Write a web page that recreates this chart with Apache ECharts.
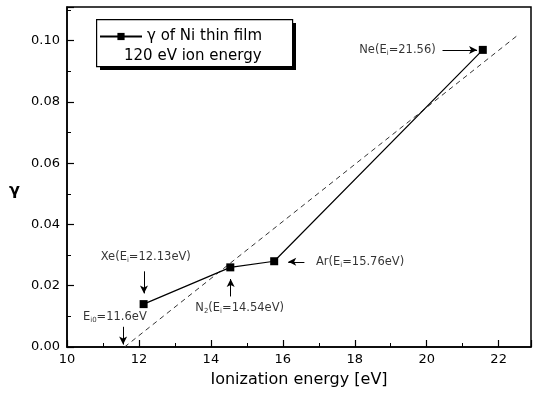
<!DOCTYPE html>
<html>
<head>
<meta charset="utf-8">
<script src="https://cdn.jsdelivr.net/npm/echarts@6/dist/echarts.min.js"></script>
<style>
  html, body { margin: 0; padding: 0; background: #fff; }
  #main { width: 538px; height: 393px; }
</style>
</head>
<body>
<div id="main"></div>
<script>
// measured gamma values
var gases = ['Xe', 'N2', 'Ar', 'Ne'];
var ionEnergy = [12.13, 14.54, 15.76, 21.56];
var gamma = [0.014, 0.026, 0.028, 0.097];

// dashed fit line, from E_i0 = 11.6 eV
var fitX = [11.6, 22.5];
var fitY = [0, 0.1015];

var xTicks = [10, 12, 14, 16, 18, 20, 22];
var yTicks = [0, 0.02, 0.04, 0.06, 0.08, 0.10];

// annotation texts (rich) and their anchor in data coords
var annoText = [
    '{t|Ne(E}{s|i}{t|=21.56)}',
    '{t|Ar(E}{s|i}{t|=15.76eV)}',
    '{t|Xe(E}{s|i}{t|=12.13eV)}',
    '{t|N}{s|2}{t|(E}{s|i}{t|=14.54eV)}',
    '{t|E}{s|i0}{t|=11.6eV}'
];
var annoX = [20.25, 16.92, 12.19, 14.8, 11.33];
var annoY = [0.097, 0.0278, 0.0294, 0.0127, 0.0098];
var annoAlign = ['right', 'left', 'center', 'center', 'center'];

// arrows: [x1, y1, x2, y2], head at the second point
var arrows = [
    [20.44, 0.097, 21.4, 0.097],
    [16.6, 0.0278, 16.15, 0.0278],
    [12.14, 0.0247, 12.14, 0.0175],
    [14.55, 0.0165, 14.55, 0.0222],
    [11.56, 0.0066, 11.56, 0.0008]
];

var font = 'DejaVu Sans, Liberation Sans, sans-serif';

var myChart = echarts.init(document.getElementById('main'));

var mainData = [];
for (var i = 0; i < ionEnergy.length; i++) {
    mainData.push([ionEnergy[i], gamma[i]]);
}
var fitData = [];
for (var i = 0; i < fitX.length; i++) {
    fitData.push([fitX[i], fitY[i]]);
}
var annoData = [];
for (var i = 0; i < annoText.length; i++) {
    annoData.push({
        value: [annoX[i], annoY[i]],
        label: { formatter: annoText[i], align: annoAlign[i] }
    });
}
var arrowData = arrows.map(function (a) {
    return [{ coord: [a[0], a[1]] }, { coord: [a[2], a[3]] }];
});

var option = {
    animation: false,
    textStyle: { fontFamily: font, color: '#000' },
    grid: {
        left: 67, right: 7, top: 7, bottom: 36,
        show: true, borderColor: '#000', borderWidth: 1.5
    },
    legend: {
        data: ['γ of Ni thin film'],
        left: 99, top: 29,
        itemWidth: 42, itemHeight: 9, itemGap: 0,
        padding: 0,
        z: 10,
        textStyle: { fontSize: 15, color: '#000', fontFamily: font }
    },
    graphic: [
        // legend box shadow
        {
            type: 'rect', left: 100, top: 23, z: 4,
            shape: { width: 196, height: 47 },
            style: { fill: '#000' }
        },
        {
            type: 'rect', left: 96, top: 19, z: 5,
            shape: { width: 196, height: 47 },
            style: { fill: '#fff', stroke: '#000', lineWidth: 1.2 }
        },
        {
            type: 'text', left: 124, top: 49, z: 10,
            style: { text: '120 eV ion energy', font: '15px ' + font, fill: '#000' }
        }
    ],
    xAxis: {
        type: 'value',
        min: 10, max: 22.9, interval: 2,
        name: 'Ionization energy [eV]',
        nameLocation: 'middle', nameGap: 25,
        nameTextStyle: { fontSize: 16, color: '#000' },
        axisLine: { lineStyle: { color: '#000', width: 1.5 } },
        axisTick: { inside: true, length: 7, lineStyle: { color: '#000', width: 1.2 } },
        minorTick: { show: true, splitNumber: 2, length: 4, lineStyle: { color: '#000' } },
        axisLabel: { fontSize: 13, color: '#000', margin: 6, showMaxLabel: false },
        splitLine: { show: false }
    },
    yAxis: {
        type: 'value',
        min: 0, max: 0.111, interval: 0.02,
        name: 'γ',
        nameLocation: 'middle', nameGap: 47, nameRotate: 0,
        nameTextStyle: { fontSize: 16, fontWeight: 'bold', color: '#000', verticalAlign: 'top', padding: [6, 0, 0, 0] },
        axisLine: { show: true, lineStyle: { color: '#000', width: 1.5 } },
        axisTick: { show: true, inside: true, length: 7, lineStyle: { color: '#000', width: 1.2 } },
        minorTick: { show: true, splitNumber: 2, length: 4, lineStyle: { color: '#000' } },
        axisLabel: {
            fontSize: 13, color: '#000', margin: 7, showMaxLabel: false,
            formatter: function (v) { return v.toFixed(2); }
        },
        splitLine: { show: false }
    },
    series: [
        {
            name: 'fit',
            type: 'line',
            data: fitData,
            symbol: 'none',
            lineStyle: { color: '#333', width: 1, type: [5, 4] },
            silent: true
        },
        {
            name: 'γ of Ni thin film',
            type: 'line',
            data: mainData,
            symbol: 'rect',
            symbolSize: 8,
            itemStyle: { color: '#000' },
            lineStyle: { color: '#000', width: 1.2 },
            z: 4
        },
        {
            name: 'notes',
            type: 'scatter',
            data: annoData,
            symbolSize: 0,
            silent: true,
            label: {
                show: true,
                position: 'inside',
                verticalAlign: 'middle',
                rich: {
                    t: { fontSize: 11.5, color: '#000', fontFamily: font, lineHeight: 14 },
                    s: { fontSize: 7, color: '#000', fontFamily: font, lineHeight: 14, padding: [7, 0, 0, 0] }
                }
            },
            markLine: {
                silent: true,
                symbol: ['none', 'arrow'],
                symbolSize: [6, 8],
                label: { show: false },
                lineStyle: { color: '#000', width: 1, type: 'solid' },
                data: arrowData
            }
        }
    ]
};

myChart.setOption(option);
</script>
</body>
</html>
